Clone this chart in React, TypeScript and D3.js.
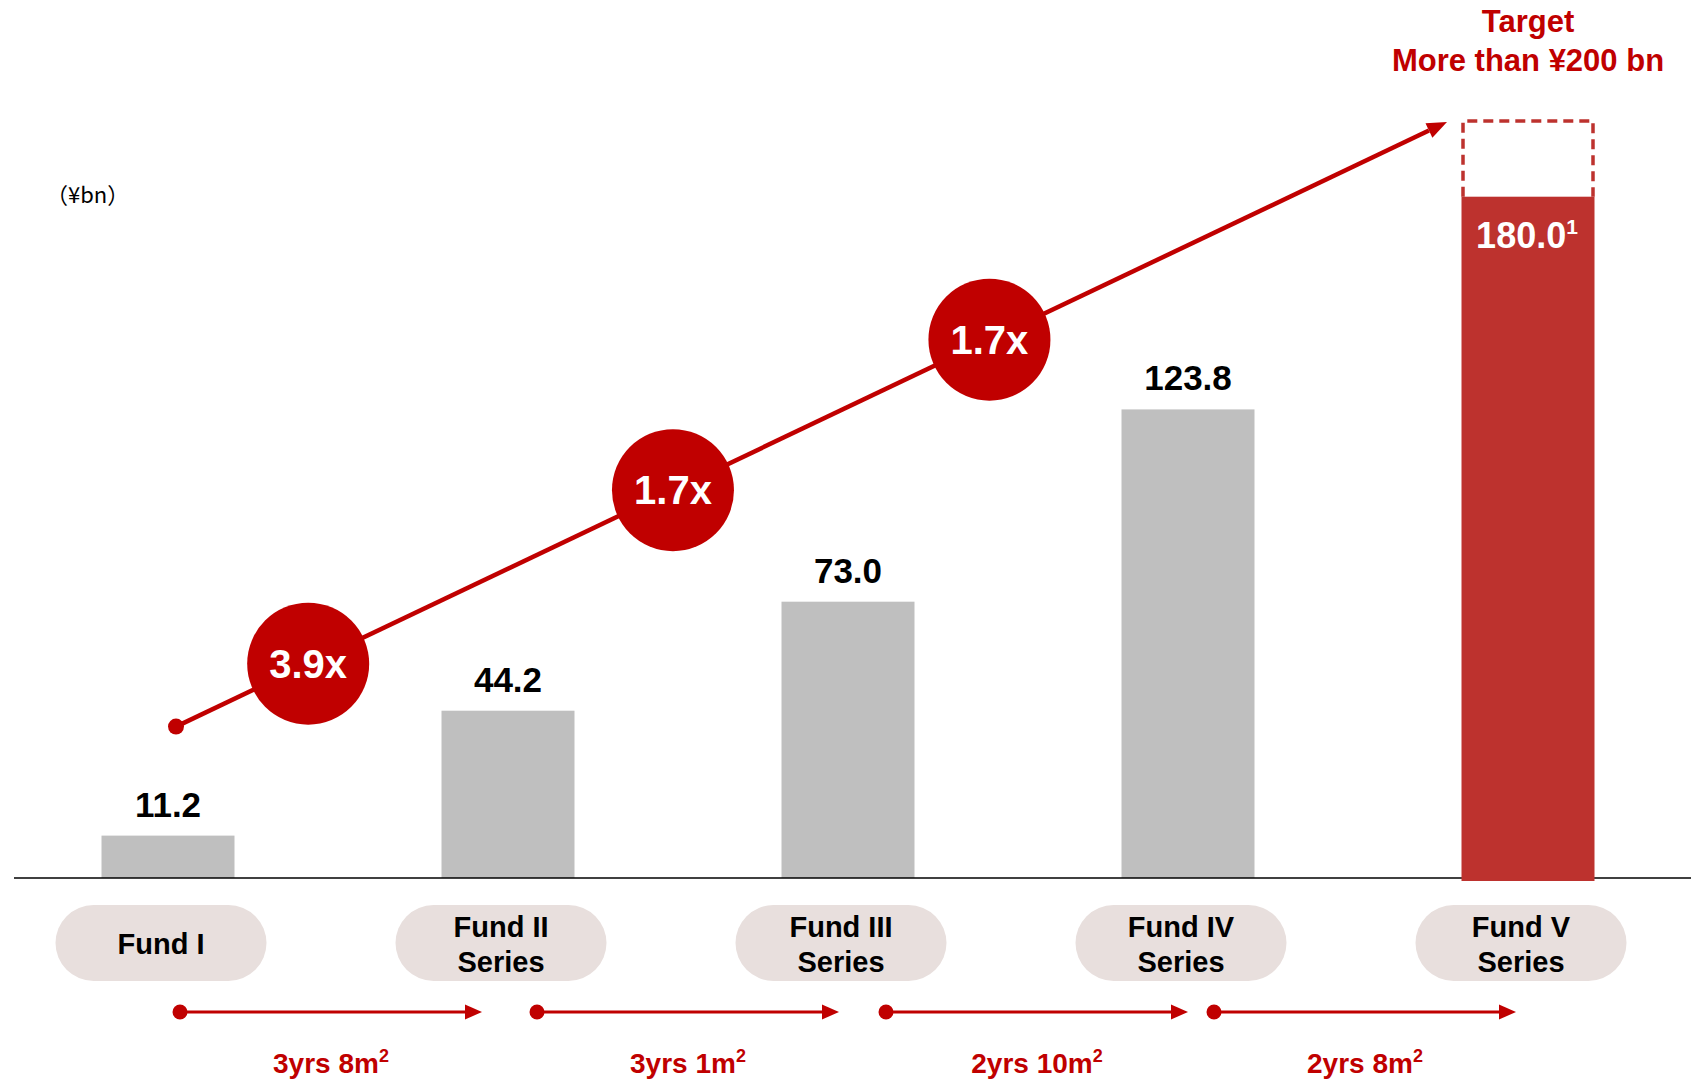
import React from 'react';
import * as d3 from 'd3';

// ---------- data ----------
const funds = ['Fund I', 'Fund II Series', 'Fund III Series', 'Fund IV Series', 'Fund V Series'];
const fundLabelLines = [['Fund I'], ['Fund II', 'Series'], ['Fund III', 'Series'], ['Fund IV', 'Series'], ['Fund V', 'Series']];
const amounts = [11.2, 44.2, 73.0, 123.8, 180.0];
const amountLabels = ['11.2', '44.2', '73.0', '123.8', '180.0'];
const targetValue = 200;
const targetLines = ['Target', 'More than ¥200 bn'];
const multiples = ['3.9x', '1.7x', '1.7x'];
const intervals = ['3yrs 8m', '3yrs 1m', '2yrs 10m', '2yrs 8m'];
const unitLabel = '（¥bn）';

// ---------- layout ----------
const W = 1691;
const H = 1084;
const BAR_W = 133;
const RED = '#C00000';
const BAR_RED = '#BD322E';
const GRAY = '#BFBFBF';
const PILL = '#E8DFDD';
const FONT = '"Liberation Sans", Arial, Helvetica, sans-serif';

export default function App() {
  const x = d3.scalePoint<string>().domain(funds).range([168, 1528]);
  const y = d3.scaleLinear().domain([0, targetValue]).range([878, 121]);
  const base = y(0);
  const last = funds.length - 1;

  // growth arrow
  const gStart: [number, number] = [(x(funds[0]) as number) + 8, y(40)];
  const gEnd: [number, number] = [(x(funds[last]) as number) - 81, y(targetValue) + 1];
  const ang = Math.atan2(gEnd[1] - gStart[1], gEnd[0] - gStart[0]);
  const headLen = 20;
  const headHalf = 8;
  const hb = [gEnd[0] - headLen * Math.cos(ang), gEnd[1] - headLen * Math.sin(ang)];
  const head = [
    gEnd,
    [hb[0] + headHalf * Math.sin(ang), hb[1] - headHalf * Math.cos(ang)],
    [hb[0] - headHalf * Math.sin(ang), hb[1] + headHalf * Math.cos(ang)],
  ];
  const circleT = [0.104, 0.391, 0.64];
  const lineGen = d3.line();

  // timeline arrows
  const tlStartOff = [12, 29, 38, 26];
  const tlLen = 302;
  const tlY = 1012;

  const pillW = 211;
  const pillH = 76;
  const pillCy = 943;

  return (
    <svg width={W} height={H} style={{ position: 'absolute', left: 0, top: 0, background: '#fff' }} fontFamily={FONT}>
      {/* unit label */}
      <text x={46} y={203} fontSize={22} fontFamily={'"Noto Sans CJK JP", sans-serif'} fill="#000">
        {unitLabel}
      </text>

      {/* target text */}
      {targetLines.map((t, i) => (
        <text key={t} x={x(funds[last]) as number} y={32 + i * 39} textAnchor="middle" fontSize={31} fontWeight="bold" fill={RED}>
          {t}
        </text>
      ))}

      {/* grey bars */}
      {funds.slice(0, last).map((f, i) => (
        <g key={f}>
          <rect x={(x(f) as number) - BAR_W / 2} y={y(amounts[i])} width={BAR_W} height={base - y(amounts[i])} fill={GRAY} />
          <text x={x(f) as number} y={y(amounts[i]) - 19} textAnchor="middle" fontSize={35} fontWeight="bold" fill="#000">
            {amountLabels[i]}
          </text>
        </g>
      ))}

      {/* axis baseline */}
      <line x1={14} x2={W} y1={base} y2={base} stroke="#000" strokeWidth={1.5} />

      {/* Fund V bar + target box */}
      <rect
        x={(x(funds[last]) as number) - BAR_W / 2}
        y={y(amounts[last])}
        width={BAR_W}
        height={base - y(amounts[last]) + 3}
        fill={BAR_RED}
      />
      <path
        d={`M${(x(funds[last]) as number) - BAR_W / 2 + 1.5},${y(amounts[last])} V${y(targetValue)} H${(x(funds[last]) as number) + BAR_W / 2 - 1.5} V${y(amounts[last])}`}
        fill="none"
        stroke={BAR_RED}
        strokeWidth={3.5}
        strokeDasharray="10 6"
      />
      <text x={(x(funds[last]) as number) - 1} y={y(amounts[last]) + 51} textAnchor="middle" fontSize={36} fontWeight="bold" fill="#fff">
        {amountLabels[last]}
        <tspan fontSize={21} dy={-14}>1</tspan>
      </text>

      {/* growth arrow */}
      <path d={lineGen([gStart, hb as [number, number]]) as string} stroke={RED} strokeWidth={4.5} fill="none" />
      <polygon points={head.map((p) => p.join(',')).join(' ')} fill={RED} />
      <circle cx={gStart[0]} cy={gStart[1]} r={8} fill={RED} />
      {multiples.map((m, i) => {
        const cx = gStart[0] + (gEnd[0] - gStart[0]) * circleT[i];
        const cy = gStart[1] + (gEnd[1] - gStart[1]) * circleT[i];
        return (
          <g key={i}>
            <circle cx={cx} cy={cy} r={61} fill={RED} />
            <text x={cx} y={cy + 14} textAnchor="middle" fontSize={40} fontWeight="bold" fill="#fff">
              {m}
            </text>
          </g>
        );
      })}

      {/* fund pills */}
      {funds.map((f, i) => {
        const cx = (x(f) as number) - 7;
        const lines = fundLabelLines[i];
        return (
          <g key={f}>
            <rect x={cx - pillW / 2} y={pillCy - pillH / 2} width={pillW} height={pillH} rx={pillH / 2} fill={PILL} />
            {lines.map((l, j) => (
              <text
                key={l}
                x={cx}
                y={lines.length === 1 ? pillCy + 11 : pillCy - 6 + j * 35}
                textAnchor="middle"
                fontSize={29}
                fontWeight="bold"
                fill="#000"
              >
                {l}
              </text>
            ))}
          </g>
        );
      })}

      {/* timeline arrows */}
      {intervals.map((t, i) => {
        const sx = (x(funds[i]) as number) + tlStartOff[i];
        const ex = sx + tlLen;
        return (
          <g key={t}>
            <circle cx={sx} cy={tlY} r={7.5} fill={RED} />
            <line x1={sx} x2={ex - 16} y1={tlY} y2={tlY} stroke={RED} strokeWidth={3} />
            <polygon points={`${ex},${tlY} ${ex - 17},${tlY - 7.5} ${ex - 17},${tlY + 7.5}`} fill={RED} />
            <text x={(sx + ex) / 2} y={1073} textAnchor="middle" fontSize={28} fontWeight="bold" fill={RED}>
              {t}
              <tspan fontSize={18} dy={-11}>2</tspan>
            </text>
          </g>
        );
      })}
    </svg>
  );
}
